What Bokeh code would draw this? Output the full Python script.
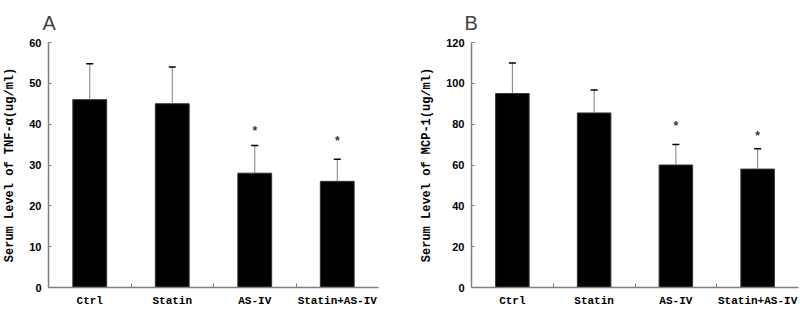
import numpy as np
from bokeh.plotting import figure
from bokeh.layouts import row
from bokeh.models import ColumnDataSource, Whisker, TeeHead, FixedTicker, Range1d
from bokeh.core.properties import value
from bokeh.embed import file_html
from bokeh.resources import INLINE

groups = ["Ctrl", "Statin", "AS-IV", "Statin+AS-IV"]

tnf_mean = [46, 45, 28, 26]
tnf_upper = [54.8, 54, 34.8, 31.4]
tnf_star_groups = ["AS-IV", "Statin+AS-IV"]
tnf_star_y = [38.3, 36.0]
tnf_ticks = [0, 10, 20, 30, 40, 50, 60]

mcp_mean = [95, 85.5, 60, 58]
mcp_upper = [110, 96.7, 70, 68]
mcp_star_groups = ["AS-IV", "Statin+AS-IV"]
mcp_star_y = [79, 74]
mcp_ticks = [0, 20, 40, 60, 80, 100, 120]

AX_COL = "#808080"
MONO = "Liberation Mono"


def panel(letter, ylabel, means, upper, star_groups, star_y, yticks,
          width, min_left, min_right, min_bottom, label_standoff, title_offset):
    xs = [i + 1 for i in range(len(groups))]
    p = figure(width=width, height=313, output_backend="svg", toolbar_location=None,
               x_range=Range1d(0.5, len(groups) + 0.5),
               y_range=Range1d(yticks[0], yticks[-1]),
               min_border_left=min_left, min_border_right=min_right,
               min_border_top=10, min_border_bottom=min_bottom,
               title=letter)
    p.title.text_font = "Liberation Sans"
    p.title.text_font_size = "20px"
    p.title.text_font_style = "normal"
    p.title.align = "left"
    p.title.offset = title_offset
    p.title.standoff = 18
    p.outline_line_color = None
    p.xgrid.visible = False
    p.ygrid.visible = False
    p.background_fill_color = "white"

    src = ColumnDataSource(dict(x=xs, mean=means, upper=upper))
    p.vbar(x="x", top="mean", bottom=0, width=0.41, source=src,
           fill_color="black", line_color="#333333", line_width=1)
    w = Whisker(source=src, base="x", lower="mean", upper="upper",
                line_color="#808080", line_width=1,
                upper_head=TeeHead(size=7, line_color="black", line_width=1.5),
                lower_head=None, level="overlay")
    p.add_layout(w)

    sx = [xs[groups.index(g)] for g in star_groups]
    p.text(x=sx, y=star_y, text=["*"] * len(sx), text_align="center",
           text_baseline="middle", text_font=value("Liberation Sans"),
           text_font_size="12px", text_font_style="bold", text_color="#333333")

    # x axis: labels at centers, small inward ticks at group boundaries
    p.xaxis.ticker = FixedTicker(ticks=xs, minor_ticks=[x + 0.5 for x in xs[:-1]])
    p.xaxis.major_label_overrides = {x: g for x, g in zip(xs, groups)}
    p.xaxis.major_tick_line_color = None
    p.xaxis.major_tick_in = 0
    p.xaxis.major_tick_out = 0
    p.xaxis.minor_tick_in = 4
    p.xaxis.minor_tick_out = 0
    p.xaxis.minor_tick_line_color = AX_COL
    p.xaxis.axis_line_color = AX_COL
    p.xaxis.axis_line_width = 1.5
    p.xaxis.major_label_text_font = MONO
    p.xaxis.major_label_text_font_style = "bold"
    p.xaxis.major_label_text_font_size = "11px"
    p.xaxis.major_label_text_color = "black"
    p.xaxis.major_label_standoff = label_standoff

    p.yaxis.ticker = FixedTicker(ticks=yticks)
    p.yaxis.minor_tick_line_color = None
    p.yaxis.major_tick_in = 3
    p.yaxis.major_tick_out = 0
    p.yaxis.major_tick_line_color = AX_COL
    p.yaxis.axis_line_color = AX_COL
    p.yaxis.axis_line_width = 1.5
    p.yaxis.major_label_text_font = "Liberation Sans"
    p.yaxis.major_label_text_font_style = "bold"
    p.yaxis.major_label_text_font_size = "11px"
    p.yaxis.major_label_text_color = "black"
    p.yaxis.major_label_standoff = 7
    p.yaxis.axis_label = ylabel
    p.yaxis.axis_label_text_font = MONO
    p.yaxis.axis_label_text_font_style = "bold"
    p.yaxis.axis_label_text_font_size = "12px"
    p.yaxis.axis_label_text_color = "black"
    p.yaxis.axis_label_standoff = 9
    return p


pa = panel("A", "Serum Level of TNF-α(ug/ml)", tnf_mean, tnf_upper,
           tnf_star_groups, tnf_star_y, tnf_ticks,
           width=400, min_left=43, min_right=22, min_bottom=26,
           label_standoff=7, title_offset=-6)
pb = panel("B", "Serum Level of MCP-1(ug/ml)", mcp_mean, mcp_upper,
           mcp_star_groups, mcp_star_y, mcp_ticks,
           width=400, min_left=71, min_right=2, min_bottom=22,
           label_standoff=7, title_offset=-7)

layout = row(pa, pb)
open("out.html", "w").write(file_html(layout, INLINE))
